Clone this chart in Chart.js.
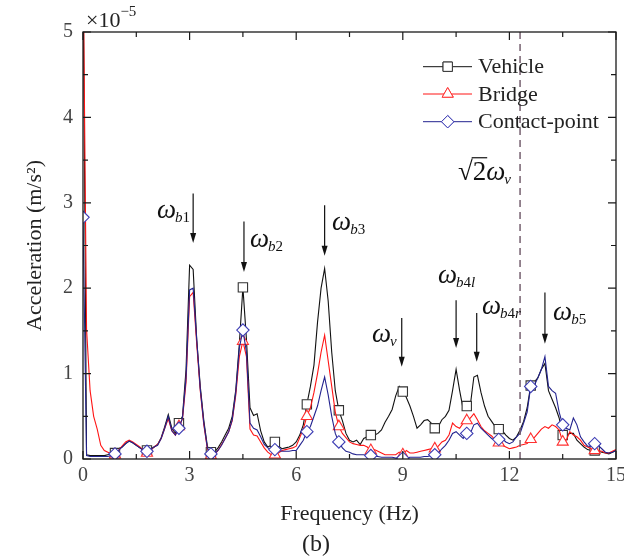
<!DOCTYPE html>
<html>
<head>
<meta charset="utf-8">
<script src="https://cdn.jsdelivr.net/npm/chart.js@4.4.0/dist/chart.umd.min.js"></script>
<style>
  body { margin: 0; background: #fff; }
  #wrap { width: 624px; height: 560px; }
</style>
</head>
<body>
<div id="wrap"><canvas id="graph" width="624" height="560"></canvas></div>
<script>
// frequency axis (Hz)
const freq = [
  0.0, 0.1, 0.2, 0.3, 0.4, 0.5, 0.6, 0.7, 0.8, 0.9,
  1.0, 1.1, 1.2, 1.3, 1.4, 1.5, 1.6, 1.7, 1.8, 1.9,
  2.0, 2.1, 2.2, 2.3, 2.4, 2.5, 2.6, 2.7, 2.8, 2.9,
  3.0, 3.1, 3.2, 3.3, 3.4, 3.5, 3.6, 3.7, 3.8, 3.9,
  4.0, 4.1, 4.2, 4.3, 4.4, 4.5, 4.6, 4.7, 4.8, 4.9,
  5.0, 5.1, 5.2, 5.3, 5.4, 5.5, 5.6, 5.7, 5.8, 5.9,
  6.0, 6.1, 6.2, 6.3, 6.4, 6.5, 6.6, 6.7, 6.8, 6.9,
  7.0, 7.1, 7.2, 7.3, 7.4, 7.5, 7.6, 7.7, 7.8, 7.9,
  8.0, 8.1, 8.2, 8.3, 8.4, 8.5, 8.6, 8.7, 8.8, 8.9,
  9.0, 9.1, 9.2, 9.3, 9.4, 9.5, 9.6, 9.7, 9.8, 9.9,
  10.0, 10.1, 10.2, 10.3, 10.4, 10.5, 10.6, 10.7, 10.8, 10.9,
  11.0, 11.1, 11.2, 11.3, 11.4, 11.5, 11.6, 11.7, 11.8, 11.9,
  12.0, 12.1, 12.2, 12.3, 12.4, 12.5, 12.6, 12.7, 12.8, 12.9,
  13.0, 13.1, 13.2, 13.3, 13.4, 13.5, 13.6, 13.7, 13.8, 13.9,
  14.0, 14.1, 14.2, 14.3, 14.4, 14.5, 14.6, 14.7, 14.8, 14.9,
  15.0
];

// acceleration amplitude (x1e-5 m/s^2)
const vehicle = [
  6.0, 0.05, 0.04, 0.04, 0.04, 0.04, 0.04, 0.05, 0.06, 0.07,
  0.12, 0.14, 0.18, 0.21, 0.19, 0.16, 0.13, 0.11, 0.10, 0.12,
  0.14, 0.17, 0.25, 0.38, 0.52, 0.36, 0.30, 0.42, 0.50, 1.05,
  2.27, 2.22, 1.40, 0.85, 0.45, 0.15, 0.08, 0.08, 0.13, 0.20,
  0.28, 0.36, 0.50, 0.81, 1.35, 2.01, 1.40, 0.60, 0.51, 0.53,
  0.33, 0.20, 0.14, 0.16, 0.20, 0.15, 0.12, 0.13, 0.14, 0.16,
  0.20, 0.28, 0.40, 0.64, 0.85, 1.10, 1.60, 2.00, 2.23, 1.85,
  1.25, 0.80, 0.57, 0.45, 0.30, 0.22, 0.20, 0.22, 0.17, 0.24,
  0.26, 0.28, 0.28, 0.30, 0.34, 0.43, 0.50, 0.58, 0.74, 0.85,
  0.79, 0.72, 0.62, 0.50, 0.36, 0.40, 0.45, 0.46, 0.42, 0.36,
  0.38, 0.46, 0.50, 0.57, 0.80, 1.05, 0.80, 0.58, 0.62, 0.63,
  0.96, 0.98, 0.78, 0.62, 0.50, 0.44, 0.38, 0.35, 0.33, 0.28,
  0.24, 0.22, 0.26, 0.34, 0.44, 0.60, 0.86, 0.90, 0.95, 1.05,
  1.12, 0.80, 0.70, 0.60, 0.48, 0.28, 0.27, 0.30, 0.30, 0.22,
  0.18, 0.14, 0.11, 0.10, 0.10, 0.09, 0.08, 0.07, 0.06, 0.08,
  0.10
];

const bridge = [
  6.0, 1.52, 0.80, 0.50, 0.35, 0.16, 0.10, 0.08, 0.06, 0.05,
  0.10, 0.15, 0.20, 0.22, 0.20, 0.17, 0.14, 0.10, 0.07, 0.10,
  0.14, 0.17, 0.24, 0.36, 0.47, 0.33, 0.28, 0.38, 0.47, 0.90,
  1.90, 1.95, 1.35, 0.80, 0.40, 0.12, 0.04, 0.05, 0.10, 0.17,
  0.24, 0.32, 0.45, 0.75, 1.20, 1.38, 1.20, 0.35, 0.28, 0.27,
  0.20, 0.13, 0.08, 0.05, 0.05, 0.07, 0.10, 0.11, 0.12, 0.13,
  0.15, 0.25, 0.35, 0.50, 0.60, 0.78, 1.00, 1.25, 1.45, 1.15,
  0.85, 0.55, 0.38, 0.30, 0.25, 0.20, 0.18, 0.17, 0.16, 0.16,
  0.14, 0.10, 0.11, 0.09, 0.07, 0.05, 0.05, 0.05, 0.05, 0.08,
  0.05, 0.10, 0.07, 0.07, 0.08, 0.09, 0.10, 0.11, 0.12, 0.12,
  0.15, 0.20, 0.22, 0.28, 0.42, 0.38, 0.36, 0.42, 0.45, 0.48,
  0.53, 0.46, 0.38, 0.33, 0.30, 0.27, 0.22, 0.19, 0.16, 0.14,
  0.12, 0.13, 0.14, 0.16, 0.17, 0.18, 0.23, 0.25, 0.30, 0.35,
  0.38, 0.36, 0.40, 0.38, 0.34, 0.20, 0.22, 0.32, 0.28, 0.26,
  0.22, 0.16, 0.14, 0.12, 0.10, 0.10, 0.09, 0.07, 0.07, 0.09,
  0.11
];

const contact = [
  2.83, 0.04, 0.03, 0.03, 0.03, 0.03, 0.03, 0.03, 0.04, 0.06,
  0.10, 0.14, 0.18, 0.21, 0.19, 0.16, 0.13, 0.10, 0.09, 0.11,
  0.14, 0.16, 0.24, 0.36, 0.50, 0.33, 0.28, 0.36, 0.48, 0.95,
  1.98, 2.00, 1.40, 0.82, 0.42, 0.13, 0.06, 0.06, 0.10, 0.16,
  0.24, 0.32, 0.46, 0.78, 1.30, 1.51, 1.25, 0.42, 0.36, 0.34,
  0.26, 0.17, 0.13, 0.11, 0.11, 0.10, 0.09, 0.09, 0.09, 0.10,
  0.10, 0.16, 0.22, 0.32, 0.38, 0.50, 0.62, 0.80, 0.96, 0.75,
  0.50, 0.30, 0.20, 0.13, 0.09, 0.08, 0.06, 0.05, 0.05, 0.05,
  0.04, 0.04, 0.03, 0.03, 0.02, 0.02, 0.02, 0.02, 0.01, 0.01,
  0.01, 0.01, 0.02, 0.02, 0.02, 0.02, 0.03, 0.03, 0.04, 0.05,
  0.07, 0.12, 0.16, 0.22, 0.30, 0.32, 0.28, 0.24, 0.30, 0.30,
  0.40, 0.42, 0.36, 0.32, 0.28, 0.24, 0.22, 0.23, 0.24, 0.20,
  0.18, 0.20, 0.26, 0.30, 0.42, 0.55, 0.85, 0.86, 0.95, 1.05,
  1.20, 0.85, 0.80, 0.77, 0.55, 0.40, 0.36, 0.34, 0.48, 0.40,
  0.26, 0.20, 0.15, 0.15, 0.18, 0.16, 0.12, 0.08, 0.07, 0.08,
  0.10
];

// a marker on every 9th sample
const markerEvery = 9;

// axis ticks
const xTicks = [0, 3, 6, 9, 12, 15];
const yTicks = [0, 1, 2, 3, 4, 5];

// sqrt(2)*omega_v line
const dashFreq = 12.3;

// arrows: frequency, arrow top, arrow tip (in axis units)
const arrows = [
  { f: 3.10, top: 3.11, tip: 2.53 },
  { f: 4.53, top: 2.78, tip: 2.19 },
  { f: 6.80, top: 2.97, tip: 2.38 },
  { f: 8.97, top: 1.65, tip: 1.08 },
  { f: 10.50, top: 1.86, tip: 1.30 },
  { f: 11.08, top: 1.71, tip: 1.14 },
  { f: 13.00, top: 1.95, tip: 1.35 }
];

// peak labels: omega with subscript, anchored at left / baseline
const peakLabels = [
  { f: 2.08, v: 2.82, sub: 'b1' },
  { f: 4.70, v: 2.48, sub: 'b2' },
  { f: 7.01, v: 2.68, sub: 'b3' },
  { f: 8.13, v: 1.37, sub: 'v' },
  { f: 9.99, v: 2.06, sub: 'b4l' },
  { f: 11.23, v: 1.70, sub: 'b4r' },
  { f: 13.23, v: 1.63, sub: 'b5' }
];

const SERIF = '"Liberation Serif", "Times New Roman", serif';

const series = [
  { label: 'Vehicle', values: vehicle, color: '#111111', mark: '#333333', style: 'rect', r: 6.6, order: 2 },
  { label: 'Bridge', values: bridge, color: '#ff1414', mark: '#ff3030', style: 'triangle', r: 6.4, order: 1 },
  { label: 'Contact-point', values: contact, color: '#23238f', mark: '#3c3cb4', style: 'rectRot', r: 6.2, order: 0 }
];

const toPoints = values => freq.map((f, i) => ({ x: f, y: values[i] }));

const datasets = series.map(s => ({
  label: s.label,
  data: toPoints(s.values),
  borderColor: s.color,
  borderWidth: 1.1,
  tension: 0,
  order: s.order,
  pointStyle: s.style,
  pointRadius: ctx => (ctx.dataIndex % markerEvery === 0 ? s.r : 0),
  pointBorderColor: s.mark,
  pointBackgroundColor: '#ffffff',
  pointBorderWidth: 1.1
}));

// draw a small-text run, italic letters and upright digits
function drawSub(ctx, text, x, y, size) {
  for (const ch of text) {
    ctx.font = (/[0-9]/.test(ch) ? '' : 'italic ') + size + 'px ' + SERIF;
    ctx.fillText(ch, x, y);
    x += ctx.measureText(ch).width;
  }
  return x;
}

function drawOmega(ctx, x, y, sub) {
  ctx.font = 'italic 27px ' + SERIF;
  ctx.fillText('\u03c9', x, y);
  const w = ctx.measureText('\u03c9').width;
  drawSub(ctx, sub, x + w - 1, y + 4, 15);
}

const decorations = {
  id: 'decorations',
  afterDatasetsDraw(chart) {
    const { ctx, chartArea: a, scales: { x, y } } = chart;
    ctx.save();

    // dashed sqrt(2)*omega_v line
    const dx = x.getPixelForValue(dashFreq);
    ctx.strokeStyle = '#75606f';
    ctx.lineWidth = 1.5;
    ctx.setLineDash([7, 5]);
    ctx.beginPath();
    ctx.moveTo(dx, a.top);
    ctx.lineTo(dx, a.bottom);
    ctx.stroke();
    ctx.setLineDash([]);

    // frame
    ctx.strokeStyle = '#1a1a1a';
    ctx.lineWidth = 1.3;
    ctx.strokeRect(a.left, a.top, a.right - a.left, a.bottom - a.top);

    // inward ticks on all four sides
    ctx.lineWidth = 1.2;
    ctx.beginPath();
    for (let i = 0; i < xTicks.length; i++) {
      const px = x.getPixelForValue(xTicks[i]);
      ctx.moveTo(px, a.bottom); ctx.lineTo(px, a.bottom - 8);
      ctx.moveTo(px, a.top); ctx.lineTo(px, a.top + 8);
      if (i < xTicks.length - 1) {
        const mx = x.getPixelForValue((xTicks[i] + xTicks[i + 1]) / 2);
        ctx.moveTo(mx, a.bottom); ctx.lineTo(mx, a.bottom - 5);
        ctx.moveTo(mx, a.top); ctx.lineTo(mx, a.top + 5);
      }
    }
    for (let i = 0; i < yTicks.length; i++) {
      const py = y.getPixelForValue(yTicks[i]);
      ctx.moveTo(a.left, py); ctx.lineTo(a.left + 8, py);
      ctx.moveTo(a.right, py); ctx.lineTo(a.right - 8, py);
      if (i < yTicks.length - 1) {
        const my = y.getPixelForValue((yTicks[i] + yTicks[i + 1]) / 2);
        ctx.moveTo(a.left, my); ctx.lineTo(a.left + 5, my);
        ctx.moveTo(a.right, my); ctx.lineTo(a.right - 5, my);
      }
    }
    ctx.stroke();

    // arrows
    ctx.strokeStyle = '#111';
    ctx.fillStyle = '#111';
    ctx.lineWidth = 1.2;
    arrows.forEach(ar => {
      const px = x.getPixelForValue(ar.f);
      const top = y.getPixelForValue(ar.top);
      const tip = y.getPixelForValue(ar.tip);
      ctx.beginPath();
      ctx.moveTo(px, top);
      ctx.lineTo(px, tip - 8);
      ctx.stroke();
      ctx.beginPath();
      ctx.moveTo(px - 3, tip - 10);
      ctx.lineTo(px + 3, tip - 10);
      ctx.lineTo(px, tip);
      ctx.closePath();
      ctx.fill();
    });

    // peak labels
    ctx.fillStyle = '#111';
    ctx.textAlign = 'left';
    ctx.textBaseline = 'alphabetic';
    peakLabels.forEach(l => {
      drawOmega(ctx, x.getPixelForValue(l.f), y.getPixelForValue(l.v), l.sub);
    });

    // sqrt(2) omega_v label
    let sx = x.getPixelForValue(10.55);
    const sy = y.getPixelForValue(3.27);
    ctx.font = '27px ' + SERIF;
    ctx.fillText('\u221a', sx, sy);
    sx += ctx.measureText('\u221a').width;
    const w2 = ctx.measureText('2').width;
    ctx.fillText('2', sx, sy);
    ctx.lineWidth = 1.2;
    ctx.beginPath();
    ctx.moveTo(sx - 1, sy - 22);
    ctx.lineTo(sx + w2 + 1, sy - 22);
    ctx.stroke();
    drawOmega(ctx, sx + w2, sy, 'v');

    // legend
    const rows = [66.7, 94, 121.7];
    series.forEach((s, i) => {
      const ry = rows[i];
      ctx.strokeStyle = s.color;
      ctx.lineWidth = 1;
      ctx.beginPath();
      ctx.moveTo(423, ry);
      ctx.lineTo(472, ry);
      ctx.stroke();
      ctx.fillStyle = '#fff';
      ctx.strokeStyle = s.mark;
      Chart.helpers.drawPoint(ctx, { pointStyle: s.style, radius: s.r, borderWidth: 1 }, 447.7, ry);
      ctx.fill();
      ctx.stroke();
      ctx.fillStyle = '#222';
      ctx.font = '22px ' + SERIF;
      ctx.textBaseline = 'middle';
      ctx.fillText(s.label, 478, ry + 1);
    });

    // exponent and panel tag
    ctx.fillStyle = '#222';
    ctx.textBaseline = 'alphabetic';
    ctx.font = '22px ' + SERIF;
    ctx.fillText('\u00d710', 86, 27);
    const ew = ctx.measureText('\u00d710').width;
    ctx.font = '15px ' + SERIF;
    ctx.fillText('\u22125', 86 + ew, 16);
    ctx.font = '24px ' + SERIF;
    ctx.textAlign = 'center';
    ctx.textBaseline = 'middle';
    ctx.fillText('(b)', 316, 545);

    ctx.restore();
  }
};

const graph = document.getElementById('graph');

new Chart(graph, {
  type: 'line',
  data: { datasets: datasets },
  options: {
    responsive: false,
    animation: false,
    devicePixelRatio: 1,
    layout: { padding: { left: 0, right: 8, top: 32, bottom: 0 } },
    plugins: {
      legend: { display: false },
      tooltip: { enabled: false }
    },
    scales: {
      x: {
        type: 'linear',
        min: 0,
        max: 15,
        afterFit: s => { s.height = 101; s.paddingLeft = 0; s.paddingRight = 0; },
        afterBuildTicks: s => { s.ticks = xTicks.map(v => ({ value: v })); },
        grid: { display: false, drawTicks: false },
        border: { display: false },
        ticks: {
          padding: 5,
          color: '#444',
          font: { family: SERIF, size: 20 }
        },
        title: {
          display: true,
          text: 'Frequency (Hz)',
          color: '#222',
          font: { family: SERIF, size: 22 },
          padding: { top: 0, bottom: 33 }
        }
      },
      y: {
        min: 0,
        max: 5,
        afterFit: s => { s.width = 83; s.paddingTop = 0; s.paddingBottom = 0; },
        afterBuildTicks: s => { s.ticks = yTicks.map(v => ({ value: v })); },
        grid: { display: false, drawTicks: false },
        border: { display: false },
        ticks: {
          padding: 10,
          color: '#444',
          font: { family: SERIF, size: 20 }
        },
        title: {
          display: true,
          text: 'Acceleration (m/s\u00b2)',
          color: '#222',
          font: { family: SERIF, size: 22 },
          padding: { top: 22, bottom: 0 }
        }
      }
    }
  },
  plugins: [decorations]
});
</script>
</body>
</html>
